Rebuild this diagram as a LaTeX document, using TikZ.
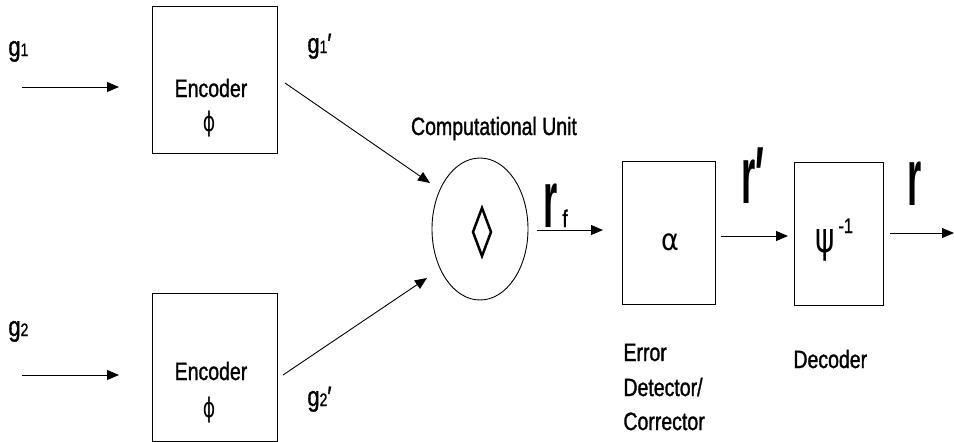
\documentclass[tikz,border=0pt]{standalone}
\usepackage{fontspec}
\setmainfont{Liberation Sans}[FakeStretch=0.78,FakeBold=1.2]
\newfontfamily\rfont{Liberation Sans}[FakeStretch=0.45]
\newfontfamily\gk{DejaVu Sans}[FakeStretch=0.7]
\newfontfamily\gka{DejaVu Sans}[FakeStretch=0.9]
\usetikzlibrary{arrows.meta,shapes.geometric}
\begin{document}
\begin{tikzpicture}[x=1pt,y=-1pt,
  line width=0.9pt,
  blk/.style={draw,rectangle,inner sep=0pt},
  lbl/.style={inner sep=0pt,font=\fontsize{25}{28}\selectfont},
  glbl/.style={inner sep=0pt,font=\fontsize{28}{28}\selectfont},
  arr/.style={-{Triangle[length=12pt,width=10pt]}},
  bigr/.style={inner sep=0pt,font=\rfont\bfseries\fontsize{81}{81}\selectfont},
  greek/.style={inner sep=0pt,font=\gk\fontsize{27}{27}\selectfont},
]
\useasboundingbox (0,0) rectangle (954,442);

% boxes
\node[blk,minimum width=125pt,minimum height=147pt] (enc1) at (214.5,79.5) {};
\node[blk,minimum width=125pt,minimum height=148pt] (enc2) at (214.5,367) {};
\node[draw,ellipse,inner sep=0pt,minimum width=96pt,minimum height=142pt] (cu) at (480,229) {};
\node[blk,minimum width=93pt,minimum height=143pt] (edc) at (668.5,232.5) {};
\node[blk,minimum width=89pt,minimum height=143pt] (dec) at (838.5,233.5) {};

% box contents
\node[lbl,anchor=base] (enc1t) at (211,97) {Encoder};
\node[greek] (enc1p) at (209,124) {ϕ};
\node[lbl,anchor=base] (enc2t) at (211,380) {Encoder};
\node[greek] (enc2p) at (209,410) {ϕ};
\draw[line width=2.5pt,line join=miter] (482,208) -- (491,232) -- (482,256) -- (473,232) -- cycle;
\node[inner sep=0pt,font=\gka\fontsize{30}{30}\selectfont,anchor=base] (al) at (670,250) {α};
\node[greek,font=\gk\fontsize{42}{42}\selectfont,anchor=base west] (ps) at (815,252) {ψ};
\node[lbl,anchor=base west,font=\fontsize{21}{21}\selectfont] (psx) at (838,233) {-1};

% labels
\node[glbl,anchor=base west] (g1) at (8,56) {g{\fontsize{18}{18}\selectfont 1}};
\node[glbl,anchor=base west] (g2) at (8,336) {g{\fontsize{18}{18}\selectfont 2}};
\node[glbl,anchor=base west] (g1p) at (307,53) {g{\fontsize{18}{18}\selectfont 1}′};
\node[glbl,anchor=base west] (g2p) at (307,406) {g{\fontsize{18}{18}\selectfont 2}′};
\node[lbl,anchor=base] (cut) at (494,135) {Computational Unit};
\node[bigr,anchor=base west] (rf) at (543,227) {r};
\node[inner sep=0pt,anchor=base west,font=\fontsize{24}{24}\selectfont] (rfs) at (562,227) {f};
\node[bigr,anchor=base west] (rp) at (741,203) {r′};
\node[bigr,anchor=base west] (r) at (907,205) {r};
\node[lbl,anchor=base west] (edct) at (623,361) {Error};
\node[lbl,anchor=base west] (edct2) at (623,396) {Detector/};
\node[lbl,anchor=base west] (edct3) at (623,430) {Corrector};
\node[lbl,anchor=base west] (dect) at (793,368) {Decoder};

% connector endpoints
\coordinate (a1s) at (22,87);  \coordinate (a1e) at (119,87);
\coordinate (a2s) at (22,375); \coordinate (a2e) at (119,375);
\coordinate (b1s) at (285,83); \coordinate (b1e) at (430,183);
\coordinate (b2s) at (283,375);\coordinate (b2e) at (427,278);
\coordinate (cs) at (537,230); \coordinate (ce) at (603,230);
\coordinate (ds) at (721,236); \coordinate (de) at (788,236);
\coordinate (es) at (890,233); \coordinate (ee) at (954,233);

\draw[arr] (a1s) -- (a1e);
\draw[arr] (a2s) -- (a2e);
\draw[arr] (b1s) -- (b1e);
\draw[arr] (b2s) -- (b2e);
\draw[arr] (cs) -- (ce);
\draw[arr] (ds) -- (de);
\draw[arr] (es) -- (ee);
\end{tikzpicture}
\end{document}
